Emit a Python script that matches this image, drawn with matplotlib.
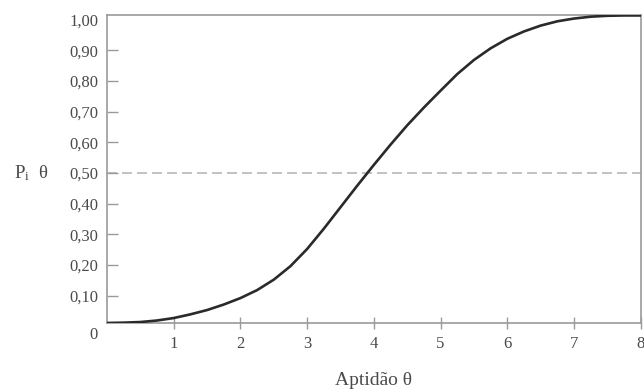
import matplotlib
matplotlib.use("Agg")
import matplotlib.pyplot as plt

theta = [0, 0.25, 0.5, 0.75, 1.0, 1.25, 1.5, 1.75, 2.0, 2.25, 2.5, 2.75, 3.0, 3.25,
         3.5, 3.75, 4.0, 4.25, 4.5, 4.75, 5.0, 5.25, 5.5, 5.75, 6.0, 6.25, 6.5, 6.75,
         7.0, 7.25, 7.5, 7.75, 8.0]
prob = [0.011, 0.012, 0.014, 0.019, 0.027, 0.039, 0.053, 0.071, 0.092, 0.118, 0.152, 0.196,
        0.252, 0.318, 0.388, 0.458, 0.526, 0.592, 0.655, 0.713, 0.768, 0.822, 0.868, 0.906,
        0.937, 0.961, 0.980, 0.994, 1.003, 1.009, 1.012, 1.013, 1.013]
x_ticks = [1, 2, 3, 4, 5, 6, 7, 8]
y_ticks = [0.10, 0.20, 0.30, 0.40, 0.50, 0.60, 0.70, 0.80, 0.90, 1.00]
y_labels = ["0,10", "0,20", "0,30", "0,40", "0,50", "0,60", "0,70", "0,80", "0,90", "1,00"]
ref_level = 0.5

plt.rcParams['font.family'] = ['Liberation Serif', 'DejaVu Serif']
plt.rcParams['mathtext.default'] = 'regular'
txt = '#4a4a4a'
spine = '#9a9a9a'

fig = plt.figure(figsize=(6.44, 3.91), dpi=100)
ax = fig.add_axes([0.166, 0.174, 0.829, 0.788])
ax.set_xlim(0, 8)
ax.set_ylim(0.011, 1.015)

ax.axhline(ref_level, color='#b8b8b8', lw=1.2, ls=(0, (6, 3)), zorder=1)
ax.plot(theta, prob, color='#2a2a2a', lw=1.9, zorder=3, solid_capstyle='round')

for s in ax.spines.values():
    s.set_color(spine)
    s.set_linewidth(1.2)

ax.set_xticks(x_ticks)
ax.set_xticklabels([str(v) for v in x_ticks])
ax.tick_params(axis='x', direction='inout', length=9, width=1.0, color=spine,
               labelsize=12, labelcolor=txt, pad=5)
ax.set_yticks(y_ticks)
ax.set_yticklabels(y_labels)
ax.tick_params(axis='y', direction='in', length=8, width=1.0, color=spine,
               labelsize=12, labelcolor=txt, pad=6)
ax.yaxis.get_major_ticks()[-1].tick1line.set_visible(False)

ax.text(-0.026, -0.039, "0", transform=ax.transAxes, ha='center', va='center',
        fontsize=12, color=txt)
ax.set_xlabel("Aptidão θ", fontsize=14, color=txt, labelpad=14)
ax.text(-0.11, ref_level, "$P_i$  θ", transform=ax.get_yaxis_transform(), ha='right',
        va='center', fontsize=13.5, color=txt)

fig.savefig("out.png", dpi=100)
